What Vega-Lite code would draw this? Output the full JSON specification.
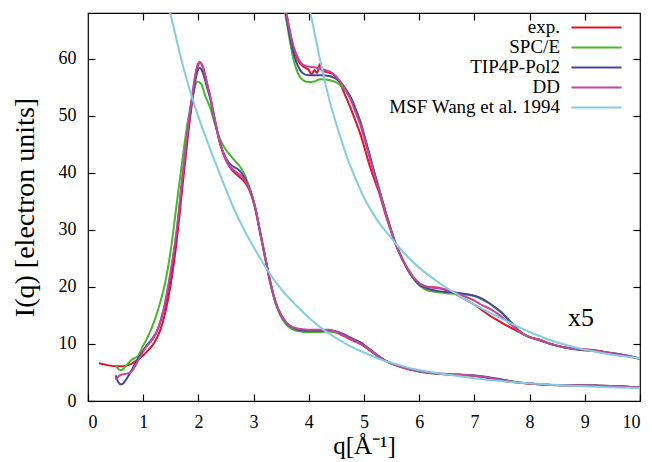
{
  "$schema": "https://vega.github.io/schema/vega-lite/v6.json",
  "width": 552,
  "height": 388,
  "autosize": {"type": "none"},
  "padding": {"left": 88, "top": 13, "right": 12, "bottom": 61},
  "background": "white",
  "config": {
    "font": "Liberation Serif",
    "view": {"stroke": "#000", "strokeWidth": 1.2},
    "axis": {"grid": false, "domain": false, "tickColor": "#000", "tickSize": -7, "tickWidth": 1.2, "labelFont": "Liberation Serif", "labelFontSize": 18, "labelColor": "#000", "titleFont": "Liberation Serif", "titleFontSize": 26, "titleFontWeight": "normal", "titleColor": "#000"},
    "legend": {"orient": "none", "legendX": 479, "legendY": 4.9, "symbolType": "M-5,0H5", "symbolSize": 100, "symbolOffset": 20, "symbolStrokeWidth": 2, "labelFont": "Liberation Serif", "labelFontSize": 19, "labelColor": "#000", "labelAlign": "right", "labelOffset": -46, "labelLimit": 300, "rowPadding": -1.8, "padding": 0}
  },
  "datasets": {
    "curves": [
      {"s":"exp.","b":"a","q":0.2,"I":6.6},{"s":"exp.","b":"a","q":0.3,"I":6.4},{"s":"exp.","b":"a","q":0.4,"I":6.2},{"s":"exp.","b":"a","q":0.5,"I":6.1},{"s":"exp.","b":"a","q":0.6,"I":6.1},{"s":"exp.","b":"a","q":0.7,"I":6.2},{"s":"exp.","b":"a","q":0.8,"I":6.6},{"s":"exp.","b":"a","q":0.9,"I":7.2},{"s":"exp.","b":"a","q":1.0,"I":8.0},{"s":"exp.","b":"a","q":1.1,"I":9.0},{"s":"exp.","b":"a","q":1.2,"I":10.2},{"s":"exp.","b":"a","q":1.3,"I":12.2},{"s":"exp.","b":"a","q":1.4,"I":15.5},{"s":"exp.","b":"a","q":1.5,"I":20.5},{"s":"exp.","b":"a","q":1.6,"I":27.5},{"s":"exp.","b":"a","q":1.7,"I":36.5},{"s":"exp.","b":"a","q":1.8,"I":45.5},{"s":"exp.","b":"a","q":1.9,"I":53.5},{"s":"exp.","b":"a","q":1.95,"I":57.0},{"s":"exp.","b":"a","q":2.0,"I":59.0},{"s":"exp.","b":"a","q":2.03,"I":59.3},{"s":"exp.","b":"a","q":2.08,"I":58.6},{"s":"exp.","b":"a","q":2.16,"I":55.5},{"s":"exp.","b":"a","q":2.22,"I":53.0},{"s":"exp.","b":"a","q":2.28,"I":50.0},{"s":"exp.","b":"a","q":2.4,"I":44.8},{"s":"exp.","b":"a","q":2.52,"I":41.8},{"s":"exp.","b":"a","q":2.6,"I":40.6},{"s":"exp.","b":"a","q":2.73,"I":39.4},{"s":"exp.","b":"a","q":2.8,"I":38.8},{"s":"exp.","b":"a","q":2.88,"I":37.8},{"s":"exp.","b":"a","q":2.95,"I":36.3},{"s":"exp.","b":"a","q":3.0,"I":34.8},{"s":"exp.","b":"a","q":3.06,"I":32.3},{"s":"exp.","b":"a","q":3.1,"I":30.3},{"s":"exp.","b":"a","q":3.2,"I":25.5},{"s":"exp.","b":"a","q":3.3,"I":20.8},{"s":"exp.","b":"a","q":3.4,"I":17.2},{"s":"exp.","b":"a","q":3.5,"I":15.0},{"s":"exp.","b":"a","q":3.6,"I":13.6},{"s":"exp.","b":"a","q":3.7,"I":12.9},{"s":"exp.","b":"a","q":3.85,"I":12.5},{"s":"exp.","b":"a","q":4.0,"I":12.4},{"s":"exp.","b":"a","q":4.2,"I":12.3},{"s":"exp.","b":"a","q":4.35,"I":12.3},{"s":"exp.","b":"a","q":4.5,"I":12.0},{"s":"exp.","b":"a","q":4.63,"I":11.4},{"s":"exp.","b":"a","q":4.8,"I":10.6},{"s":"exp.","b":"a","q":4.93,"I":10.0},{"s":"exp.","b":"a","q":5.1,"I":8.9},{"s":"exp.","b":"a","q":5.23,"I":8.0},{"s":"exp.","b":"a","q":5.4,"I":7.0},{"s":"exp.","b":"a","q":5.6,"I":6.2},{"s":"exp.","b":"a","q":5.8,"I":5.6},{"s":"exp.","b":"a","q":5.96,"I":5.3},{"s":"exp.","b":"a","q":6.2,"I":4.9},{"s":"exp.","b":"a","q":6.56,"I":4.65},{"s":"exp.","b":"a","q":6.9,"I":4.5},{"s":"exp.","b":"a","q":7.16,"I":4.2},{"s":"exp.","b":"a","q":7.5,"I":3.6},{"s":"exp.","b":"a","q":7.77,"I":3.25},{"s":"exp.","b":"a","q":8.1,"I":3.0},{"s":"exp.","b":"a","q":8.67,"I":2.75},{"s":"exp.","b":"a","q":9.2,"I":2.7},{"s":"exp.","b":"a","q":9.6,"I":2.6},{"s":"exp.","b":"a","q":10,"I":2.35},

      {"s":"exp.","b":"b","q":3.5,"I":72.5},{"s":"exp.","b":"b","q":3.58,"I":68.5},{"s":"exp.","b":"b","q":3.65,"I":65.0},{"s":"exp.","b":"b","q":3.72,"I":62.0},{"s":"exp.","b":"b","q":3.8,"I":59.8},{"s":"exp.","b":"b","q":3.9,"I":58.6},{"s":"exp.","b":"b","q":4.0,"I":58.0},{"s":"exp.","b":"b","q":4.05,"I":57.2},{"s":"exp.","b":"b","q":4.1,"I":58.0},{"s":"exp.","b":"b","q":4.15,"I":57.5},{"s":"exp.","b":"b","q":4.2,"I":59.0},{"s":"exp.","b":"b","q":4.25,"I":57.8},{"s":"exp.","b":"b","q":4.35,"I":57.6},{"s":"exp.","b":"b","q":4.45,"I":57.2},{"s":"exp.","b":"b","q":4.55,"I":56.0},{"s":"exp.","b":"b","q":4.65,"I":53.8},{"s":"exp.","b":"b","q":4.75,"I":51.5},{"s":"exp.","b":"b","q":4.85,"I":49.0},{"s":"exp.","b":"b","q":4.93,"I":46.9},{"s":"exp.","b":"b","q":5.02,"I":44.0},{"s":"exp.","b":"b","q":5.11,"I":41.0},{"s":"exp.","b":"b","q":5.2,"I":38.5},{"s":"exp.","b":"b","q":5.29,"I":36.0},{"s":"exp.","b":"b","q":5.38,"I":33.0},{"s":"exp.","b":"b","q":5.47,"I":30.3},{"s":"exp.","b":"b","q":5.56,"I":27.8},{"s":"exp.","b":"b","q":5.66,"I":25.5},{"s":"exp.","b":"b","q":5.75,"I":23.8},{"s":"exp.","b":"b","q":5.84,"I":22.3},{"s":"exp.","b":"b","q":5.93,"I":21.2},{"s":"exp.","b":"b","q":6.02,"I":20.5},{"s":"exp.","b":"b","q":6.15,"I":20.0},{"s":"exp.","b":"b","q":6.32,"I":19.9},{"s":"exp.","b":"b","q":6.5,"I":19.4},{"s":"exp.","b":"b","q":6.62,"I":18.9},{"s":"exp.","b":"b","q":6.8,"I":18.0},{"s":"exp.","b":"b","q":6.98,"I":17.0},{"s":"exp.","b":"b","q":7.1,"I":16.2},{"s":"exp.","b":"b","q":7.29,"I":14.9},{"s":"exp.","b":"b","q":7.45,"I":14.0},{"s":"exp.","b":"b","q":7.59,"I":13.2},{"s":"exp.","b":"b","q":7.75,"I":12.4},{"s":"exp.","b":"b","q":7.89,"I":11.7},{"s":"exp.","b":"b","q":8.0,"I":11.2},{"s":"exp.","b":"b","q":8.1,"I":10.9},{"s":"exp.","b":"b","q":8.19,"I":10.6},{"s":"exp.","b":"b","q":8.35,"I":10.1},{"s":"exp.","b":"b","q":8.49,"I":9.7},{"s":"exp.","b":"b","q":8.65,"I":9.4},{"s":"exp.","b":"b","q":8.79,"I":9.2},{"s":"exp.","b":"b","q":8.95,"I":9.1},{"s":"exp.","b":"b","q":9.1,"I":9.0},{"s":"exp.","b":"b","q":9.25,"I":8.8},{"s":"exp.","b":"b","q":9.4,"I":8.5},{"s":"exp.","b":"b","q":9.6,"I":8.2},{"s":"exp.","b":"b","q":9.8,"I":7.8},{"s":"exp.","b":"b","q":10,"I":7.4},

      {"s":"SPC/E","b":"a","q":0.5,"I":6.3},{"s":"SPC/E","b":"a","q":0.55,"I":5.6},{"s":"SPC/E","b":"a","q":0.6,"I":5.4},{"s":"SPC/E","b":"a","q":0.65,"I":5.7},{"s":"SPC/E","b":"a","q":0.7,"I":6.3},{"s":"SPC/E","b":"a","q":0.8,"I":7.3},{"s":"SPC/E","b":"a","q":0.9,"I":7.8},{"s":"SPC/E","b":"a","q":1.0,"I":9.7},{"s":"SPC/E","b":"a","q":1.1,"I":11.6},{"s":"SPC/E","b":"a","q":1.2,"I":14.0},{"s":"SPC/E","b":"a","q":1.3,"I":17.0},{"s":"SPC/E","b":"a","q":1.4,"I":20.8},{"s":"SPC/E","b":"a","q":1.5,"I":26.5},{"s":"SPC/E","b":"a","q":1.6,"I":34.0},{"s":"SPC/E","b":"a","q":1.7,"I":41.5},{"s":"SPC/E","b":"a","q":1.8,"I":48.5},{"s":"SPC/E","b":"a","q":1.9,"I":53.5},{"s":"SPC/E","b":"a","q":1.98,"I":56.0},{"s":"SPC/E","b":"a","q":2.05,"I":55.6},{"s":"SPC/E","b":"a","q":2.12,"I":53.6},{"s":"SPC/E","b":"a","q":2.22,"I":51.2},{"s":"SPC/E","b":"a","q":2.3,"I":48.5},{"s":"SPC/E","b":"a","q":2.4,"I":45.7},{"s":"SPC/E","b":"a","q":2.5,"I":44.0},{"s":"SPC/E","b":"a","q":2.58,"I":43.0},{"s":"SPC/E","b":"a","q":2.7,"I":41.7},{"s":"SPC/E","b":"a","q":2.76,"I":41.0},{"s":"SPC/E","b":"a","q":2.82,"I":40.0},{"s":"SPC/E","b":"a","q":2.88,"I":38.6},{"s":"SPC/E","b":"a","q":2.95,"I":36.7},{"s":"SPC/E","b":"a","q":3.0,"I":35.0},{"s":"SPC/E","b":"a","q":3.06,"I":32.5},{"s":"SPC/E","b":"a","q":3.1,"I":30.5},{"s":"SPC/E","b":"a","q":3.2,"I":25.6},{"s":"SPC/E","b":"a","q":3.3,"I":20.8},{"s":"SPC/E","b":"a","q":3.4,"I":17.0},{"s":"SPC/E","b":"a","q":3.5,"I":14.7},{"s":"SPC/E","b":"a","q":3.6,"I":13.3},{"s":"SPC/E","b":"a","q":3.7,"I":12.6},{"s":"SPC/E","b":"a","q":3.85,"I":12.2},{"s":"SPC/E","b":"a","q":4.0,"I":12.1},{"s":"SPC/E","b":"a","q":4.2,"I":12.1},{"s":"SPC/E","b":"a","q":4.35,"I":12.2},{"s":"SPC/E","b":"a","q":4.5,"I":12.0},{"s":"SPC/E","b":"a","q":4.63,"I":11.5},{"s":"SPC/E","b":"a","q":4.8,"I":10.8},{"s":"SPC/E","b":"a","q":4.93,"I":10.2},{"s":"SPC/E","b":"a","q":5.1,"I":9.0},{"s":"SPC/E","b":"a","q":5.23,"I":8.1},{"s":"SPC/E","b":"a","q":5.4,"I":7.0},{"s":"SPC/E","b":"a","q":5.6,"I":6.2},{"s":"SPC/E","b":"a","q":5.8,"I":5.6},{"s":"SPC/E","b":"a","q":5.96,"I":5.2},{"s":"SPC/E","b":"a","q":6.2,"I":4.9},{"s":"SPC/E","b":"a","q":6.56,"I":4.6},{"s":"SPC/E","b":"a","q":6.9,"I":4.5},{"s":"SPC/E","b":"a","q":7.16,"I":4.25},{"s":"SPC/E","b":"a","q":7.5,"I":3.7},{"s":"SPC/E","b":"a","q":7.77,"I":3.3},{"s":"SPC/E","b":"a","q":8.1,"I":3.0},{"s":"SPC/E","b":"a","q":8.67,"I":2.75},{"s":"SPC/E","b":"a","q":9.2,"I":2.7},{"s":"SPC/E","b":"a","q":9.6,"I":2.6},{"s":"SPC/E","b":"a","q":10,"I":2.35},

      {"s":"SPC/E","b":"b","q":3.5,"I":71.5},{"s":"SPC/E","b":"b","q":3.58,"I":67.5},{"s":"SPC/E","b":"b","q":3.65,"I":63.5},{"s":"SPC/E","b":"b","q":3.72,"I":60.0},{"s":"SPC/E","b":"b","q":3.8,"I":57.5},{"s":"SPC/E","b":"b","q":3.9,"I":56.2},{"s":"SPC/E","b":"b","q":4.0,"I":55.9},{"s":"SPC/E","b":"b","q":4.1,"I":56.0},{"s":"SPC/E","b":"b","q":4.21,"I":56.4},{"s":"SPC/E","b":"b","q":4.39,"I":56.2},{"s":"SPC/E","b":"b","q":4.57,"I":55.4},{"s":"SPC/E","b":"b","q":4.66,"I":54.5},{"s":"SPC/E","b":"b","q":4.75,"I":53.2},{"s":"SPC/E","b":"b","q":4.84,"I":51.3},{"s":"SPC/E","b":"b","q":4.93,"I":49.0},{"s":"SPC/E","b":"b","q":5.02,"I":46.0},{"s":"SPC/E","b":"b","q":5.11,"I":42.8},{"s":"SPC/E","b":"b","q":5.2,"I":39.6},{"s":"SPC/E","b":"b","q":5.29,"I":36.6},{"s":"SPC/E","b":"b","q":5.38,"I":33.5},{"s":"SPC/E","b":"b","q":5.47,"I":30.7},{"s":"SPC/E","b":"b","q":5.56,"I":28.0},{"s":"SPC/E","b":"b","q":5.66,"I":25.6},{"s":"SPC/E","b":"b","q":5.75,"I":23.8},{"s":"SPC/E","b":"b","q":5.84,"I":22.2},{"s":"SPC/E","b":"b","q":5.93,"I":21.0},{"s":"SPC/E","b":"b","q":6.02,"I":20.1},{"s":"SPC/E","b":"b","q":6.15,"I":19.4},{"s":"SPC/E","b":"b","q":6.32,"I":19.1},{"s":"SPC/E","b":"b","q":6.5,"I":18.9},{"s":"SPC/E","b":"b","q":6.62,"I":18.8},{"s":"SPC/E","b":"b","q":6.8,"I":18.7},{"s":"SPC/E","b":"b","q":6.98,"I":18.45},{"s":"SPC/E","b":"b","q":7.1,"I":18.0},{"s":"SPC/E","b":"b","q":7.2,"I":17.5},{"s":"SPC/E","b":"b","q":7.29,"I":17.0},{"s":"SPC/E","b":"b","q":7.4,"I":16.2},{"s":"SPC/E","b":"b","q":7.5,"I":15.5},{"s":"SPC/E","b":"b","q":7.59,"I":14.6},{"s":"SPC/E","b":"b","q":7.7,"I":13.4},{"s":"SPC/E","b":"b","q":7.8,"I":12.4},{"s":"SPC/E","b":"b","q":7.89,"I":11.7},{"s":"SPC/E","b":"b","q":8.0,"I":11.2},{"s":"SPC/E","b":"b","q":8.1,"I":10.9},{"s":"SPC/E","b":"b","q":8.19,"I":10.7},{"s":"SPC/E","b":"b","q":8.35,"I":10.1},{"s":"SPC/E","b":"b","q":8.49,"I":9.7},{"s":"SPC/E","b":"b","q":8.65,"I":9.35},{"s":"SPC/E","b":"b","q":8.79,"I":9.1},{"s":"SPC/E","b":"b","q":8.95,"I":8.95},{"s":"SPC/E","b":"b","q":9.1,"I":8.8},{"s":"SPC/E","b":"b","q":9.25,"I":8.7},{"s":"SPC/E","b":"b","q":9.4,"I":8.5},{"s":"SPC/E","b":"b","q":9.6,"I":8.25},{"s":"SPC/E","b":"b","q":9.8,"I":7.9},{"s":"SPC/E","b":"b","q":10,"I":7.4},

      {"s":"TIP4P-Pol2","b":"a","q":0.5,"I":4.5},{"s":"TIP4P-Pol2","b":"a","q":0.55,"I":3.3},{"s":"TIP4P-Pol2","b":"a","q":0.6,"I":2.9},{"s":"TIP4P-Pol2","b":"a","q":0.65,"I":3.2},{"s":"TIP4P-Pol2","b":"a","q":0.7,"I":3.9},{"s":"TIP4P-Pol2","b":"a","q":0.78,"I":5.2},{"s":"TIP4P-Pol2","b":"a","q":0.85,"I":6.5},{"s":"TIP4P-Pol2","b":"a","q":0.93,"I":7.8},{"s":"TIP4P-Pol2","b":"a","q":1.05,"I":9.6},{"s":"TIP4P-Pol2","b":"a","q":1.17,"I":11.0},{"s":"TIP4P-Pol2","b":"a","q":1.25,"I":12.3},{"s":"TIP4P-Pol2","b":"a","q":1.32,"I":14.2},{"s":"TIP4P-Pol2","b":"a","q":1.4,"I":17.0},{"s":"TIP4P-Pol2","b":"a","q":1.47,"I":20.6},{"s":"TIP4P-Pol2","b":"a","q":1.55,"I":25.5},{"s":"TIP4P-Pol2","b":"a","q":1.6,"I":29.0},{"s":"TIP4P-Pol2","b":"a","q":1.7,"I":38.0},{"s":"TIP4P-Pol2","b":"a","q":1.8,"I":46.5},{"s":"TIP4P-Pol2","b":"a","q":1.9,"I":53.5},{"s":"TIP4P-Pol2","b":"a","q":1.97,"I":57.3},{"s":"TIP4P-Pol2","b":"a","q":2.02,"I":58.4},{"s":"TIP4P-Pol2","b":"a","q":2.07,"I":57.8},{"s":"TIP4P-Pol2","b":"a","q":2.16,"I":54.8},{"s":"TIP4P-Pol2","b":"a","q":2.22,"I":52.8},{"s":"TIP4P-Pol2","b":"a","q":2.28,"I":49.9},{"s":"TIP4P-Pol2","b":"a","q":2.4,"I":45.0},{"s":"TIP4P-Pol2","b":"a","q":2.52,"I":42.2},{"s":"TIP4P-Pol2","b":"a","q":2.6,"I":41.3},{"s":"TIP4P-Pol2","b":"a","q":2.73,"I":40.5},{"s":"TIP4P-Pol2","b":"a","q":2.8,"I":39.7},{"s":"TIP4P-Pol2","b":"a","q":2.88,"I":38.3},{"s":"TIP4P-Pol2","b":"a","q":2.95,"I":36.6},{"s":"TIP4P-Pol2","b":"a","q":3.0,"I":35.0},{"s":"TIP4P-Pol2","b":"a","q":3.06,"I":32.5},{"s":"TIP4P-Pol2","b":"a","q":3.1,"I":30.5},{"s":"TIP4P-Pol2","b":"a","q":3.2,"I":25.7},{"s":"TIP4P-Pol2","b":"a","q":3.3,"I":21.0},{"s":"TIP4P-Pol2","b":"a","q":3.4,"I":17.3},{"s":"TIP4P-Pol2","b":"a","q":3.5,"I":15.0},{"s":"TIP4P-Pol2","b":"a","q":3.6,"I":13.6},{"s":"TIP4P-Pol2","b":"a","q":3.7,"I":12.9},{"s":"TIP4P-Pol2","b":"a","q":3.85,"I":12.4},{"s":"TIP4P-Pol2","b":"a","q":4.0,"I":12.3},{"s":"TIP4P-Pol2","b":"a","q":4.2,"I":12.3},{"s":"TIP4P-Pol2","b":"a","q":4.35,"I":12.4},{"s":"TIP4P-Pol2","b":"a","q":4.5,"I":12.2},{"s":"TIP4P-Pol2","b":"a","q":4.63,"I":11.7},{"s":"TIP4P-Pol2","b":"a","q":4.8,"I":10.9},{"s":"TIP4P-Pol2","b":"a","q":4.93,"I":10.3},{"s":"TIP4P-Pol2","b":"a","q":5.1,"I":9.1},{"s":"TIP4P-Pol2","b":"a","q":5.23,"I":8.1},{"s":"TIP4P-Pol2","b":"a","q":5.4,"I":7.0},{"s":"TIP4P-Pol2","b":"a","q":5.6,"I":6.2},{"s":"TIP4P-Pol2","b":"a","q":5.8,"I":5.6},{"s":"TIP4P-Pol2","b":"a","q":5.96,"I":5.3},{"s":"TIP4P-Pol2","b":"a","q":6.2,"I":4.9},{"s":"TIP4P-Pol2","b":"a","q":6.56,"I":4.7},{"s":"TIP4P-Pol2","b":"a","q":6.9,"I":4.55},{"s":"TIP4P-Pol2","b":"a","q":7.16,"I":4.3},{"s":"TIP4P-Pol2","b":"a","q":7.5,"I":3.75},{"s":"TIP4P-Pol2","b":"a","q":7.77,"I":3.3},{"s":"TIP4P-Pol2","b":"a","q":8.1,"I":3.0},{"s":"TIP4P-Pol2","b":"a","q":8.67,"I":2.75},{"s":"TIP4P-Pol2","b":"a","q":9.2,"I":2.7},{"s":"TIP4P-Pol2","b":"a","q":9.6,"I":2.6},{"s":"TIP4P-Pol2","b":"a","q":10,"I":2.35},

      {"s":"TIP4P-Pol2","b":"b","q":3.5,"I":72.0},{"s":"TIP4P-Pol2","b":"b","q":3.58,"I":68.0},{"s":"TIP4P-Pol2","b":"b","q":3.65,"I":64.2},{"s":"TIP4P-Pol2","b":"b","q":3.72,"I":61.0},{"s":"TIP4P-Pol2","b":"b","q":3.8,"I":58.8},{"s":"TIP4P-Pol2","b":"b","q":3.9,"I":57.4},{"s":"TIP4P-Pol2","b":"b","q":4.0,"I":57.1},{"s":"TIP4P-Pol2","b":"b","q":4.1,"I":57.1},{"s":"TIP4P-Pol2","b":"b","q":4.21,"I":57.1},{"s":"TIP4P-Pol2","b":"b","q":4.39,"I":56.9},{"s":"TIP4P-Pol2","b":"b","q":4.57,"I":55.9},{"s":"TIP4P-Pol2","b":"b","q":4.66,"I":54.8},{"s":"TIP4P-Pol2","b":"b","q":4.75,"I":53.4},{"s":"TIP4P-Pol2","b":"b","q":4.84,"I":51.4},{"s":"TIP4P-Pol2","b":"b","q":4.93,"I":49.0},{"s":"TIP4P-Pol2","b":"b","q":5.02,"I":46.0},{"s":"TIP4P-Pol2","b":"b","q":5.11,"I":42.8},{"s":"TIP4P-Pol2","b":"b","q":5.2,"I":39.6},{"s":"TIP4P-Pol2","b":"b","q":5.29,"I":36.6},{"s":"TIP4P-Pol2","b":"b","q":5.38,"I":33.5},{"s":"TIP4P-Pol2","b":"b","q":5.47,"I":30.6},{"s":"TIP4P-Pol2","b":"b","q":5.56,"I":27.9},{"s":"TIP4P-Pol2","b":"b","q":5.66,"I":25.6},{"s":"TIP4P-Pol2","b":"b","q":5.75,"I":23.8},{"s":"TIP4P-Pol2","b":"b","q":5.84,"I":22.3},{"s":"TIP4P-Pol2","b":"b","q":5.93,"I":21.1},{"s":"TIP4P-Pol2","b":"b","q":6.02,"I":20.3},{"s":"TIP4P-Pol2","b":"b","q":6.15,"I":19.7},{"s":"TIP4P-Pol2","b":"b","q":6.32,"I":19.3},{"s":"TIP4P-Pol2","b":"b","q":6.5,"I":19.1},{"s":"TIP4P-Pol2","b":"b","q":6.62,"I":19.0},{"s":"TIP4P-Pol2","b":"b","q":6.8,"I":18.8},{"s":"TIP4P-Pol2","b":"b","q":6.98,"I":18.5},{"s":"TIP4P-Pol2","b":"b","q":7.1,"I":18.1},{"s":"TIP4P-Pol2","b":"b","q":7.2,"I":17.6},{"s":"TIP4P-Pol2","b":"b","q":7.29,"I":17.0},{"s":"TIP4P-Pol2","b":"b","q":7.4,"I":16.2},{"s":"TIP4P-Pol2","b":"b","q":7.5,"I":15.4},{"s":"TIP4P-Pol2","b":"b","q":7.59,"I":14.5},{"s":"TIP4P-Pol2","b":"b","q":7.7,"I":13.4},{"s":"TIP4P-Pol2","b":"b","q":7.8,"I":12.4},{"s":"TIP4P-Pol2","b":"b","q":7.89,"I":11.7},{"s":"TIP4P-Pol2","b":"b","q":8.0,"I":11.2},{"s":"TIP4P-Pol2","b":"b","q":8.1,"I":10.9},{"s":"TIP4P-Pol2","b":"b","q":8.19,"I":10.7},{"s":"TIP4P-Pol2","b":"b","q":8.35,"I":10.1},{"s":"TIP4P-Pol2","b":"b","q":8.49,"I":9.7},{"s":"TIP4P-Pol2","b":"b","q":8.65,"I":9.35},{"s":"TIP4P-Pol2","b":"b","q":8.79,"I":9.1},{"s":"TIP4P-Pol2","b":"b","q":8.95,"I":8.95},{"s":"TIP4P-Pol2","b":"b","q":9.1,"I":8.8},{"s":"TIP4P-Pol2","b":"b","q":9.25,"I":8.7},{"s":"TIP4P-Pol2","b":"b","q":9.4,"I":8.5},{"s":"TIP4P-Pol2","b":"b","q":9.6,"I":8.25},{"s":"TIP4P-Pol2","b":"b","q":9.8,"I":7.9},{"s":"TIP4P-Pol2","b":"b","q":10,"I":7.45},

      {"s":"DD","b":"a","q":0.5,"I":3.7},{"s":"DD","b":"a","q":0.55,"I":4.3},{"s":"DD","b":"a","q":0.6,"I":4.6},{"s":"DD","b":"a","q":0.7,"I":4.8},{"s":"DD","b":"a","q":0.75,"I":4.9},{"s":"DD","b":"a","q":0.8,"I":5.3},{"s":"DD","b":"a","q":0.87,"I":6.4},{"s":"DD","b":"a","q":0.95,"I":7.8},{"s":"DD","b":"a","q":1.02,"I":9.0},{"s":"DD","b":"a","q":1.1,"I":10.0},{"s":"DD","b":"a","q":1.17,"I":10.8},{"s":"DD","b":"a","q":1.25,"I":12.2},{"s":"DD","b":"a","q":1.32,"I":14.2},{"s":"DD","b":"a","q":1.4,"I":17.5},{"s":"DD","b":"a","q":1.47,"I":21.2},{"s":"DD","b":"a","q":1.55,"I":26.0},{"s":"DD","b":"a","q":1.6,"I":29.5},{"s":"DD","b":"a","q":1.7,"I":38.3},{"s":"DD","b":"a","q":1.8,"I":47.0},{"s":"DD","b":"a","q":1.9,"I":54.5},{"s":"DD","b":"a","q":1.97,"I":58.5},{"s":"DD","b":"a","q":2.02,"I":59.4},{"s":"DD","b":"a","q":2.07,"I":58.8},{"s":"DD","b":"a","q":2.16,"I":55.5},{"s":"DD","b":"a","q":2.22,"I":53.2},{"s":"DD","b":"a","q":2.28,"I":50.2},{"s":"DD","b":"a","q":2.4,"I":45.0},{"s":"DD","b":"a","q":2.52,"I":41.9},{"s":"DD","b":"a","q":2.6,"I":40.8},{"s":"DD","b":"a","q":2.73,"I":39.8},{"s":"DD","b":"a","q":2.8,"I":39.2},{"s":"DD","b":"a","q":2.88,"I":38.1},{"s":"DD","b":"a","q":2.95,"I":36.6},{"s":"DD","b":"a","q":3.0,"I":35.1},{"s":"DD","b":"a","q":3.06,"I":32.6},{"s":"DD","b":"a","q":3.1,"I":30.6},{"s":"DD","b":"a","q":3.2,"I":25.7},{"s":"DD","b":"a","q":3.3,"I":21.0},{"s":"DD","b":"a","q":3.4,"I":17.3},{"s":"DD","b":"a","q":3.5,"I":15.1},{"s":"DD","b":"a","q":3.6,"I":13.7},{"s":"DD","b":"a","q":3.7,"I":13.0},{"s":"DD","b":"a","q":3.85,"I":12.6},{"s":"DD","b":"a","q":4.0,"I":12.5},{"s":"DD","b":"a","q":4.2,"I":12.5},{"s":"DD","b":"a","q":4.35,"I":12.5},{"s":"DD","b":"a","q":4.5,"I":12.1},{"s":"DD","b":"a","q":4.63,"I":11.5},{"s":"DD","b":"a","q":4.8,"I":10.7},{"s":"DD","b":"a","q":4.93,"I":10.1},{"s":"DD","b":"a","q":5.1,"I":9.0},{"s":"DD","b":"a","q":5.23,"I":8.0},{"s":"DD","b":"a","q":5.4,"I":7.0},{"s":"DD","b":"a","q":5.6,"I":6.2},{"s":"DD","b":"a","q":5.8,"I":5.6},{"s":"DD","b":"a","q":5.96,"I":5.3},{"s":"DD","b":"a","q":6.2,"I":4.95},{"s":"DD","b":"a","q":6.56,"I":4.7},{"s":"DD","b":"a","q":6.9,"I":4.5},{"s":"DD","b":"a","q":7.16,"I":4.2},{"s":"DD","b":"a","q":7.5,"I":3.65},{"s":"DD","b":"a","q":7.77,"I":3.25},{"s":"DD","b":"a","q":8.1,"I":3.0},{"s":"DD","b":"a","q":8.67,"I":2.75},{"s":"DD","b":"a","q":9.2,"I":2.7},{"s":"DD","b":"a","q":9.6,"I":2.6},{"s":"DD","b":"a","q":10,"I":2.35},

      {"s":"DD","b":"b","q":3.5,"I":72.8},{"s":"DD","b":"b","q":3.58,"I":68.8},{"s":"DD","b":"b","q":3.65,"I":65.2},{"s":"DD","b":"b","q":3.72,"I":62.3},{"s":"DD","b":"b","q":3.8,"I":60.2},{"s":"DD","b":"b","q":3.9,"I":58.9},{"s":"DD","b":"b","q":4.0,"I":58.6},{"s":"DD","b":"b","q":4.1,"I":58.5},{"s":"DD","b":"b","q":4.21,"I":58.2},{"s":"DD","b":"b","q":4.39,"I":57.7},{"s":"DD","b":"b","q":4.57,"I":56.0},{"s":"DD","b":"b","q":4.66,"I":54.6},{"s":"DD","b":"b","q":4.75,"I":53.0},{"s":"DD","b":"b","q":4.84,"I":50.8},{"s":"DD","b":"b","q":4.93,"I":48.5},{"s":"DD","b":"b","q":5.02,"I":45.5},{"s":"DD","b":"b","q":5.11,"I":42.3},{"s":"DD","b":"b","q":5.2,"I":39.2},{"s":"DD","b":"b","q":5.29,"I":36.3},{"s":"DD","b":"b","q":5.38,"I":33.3},{"s":"DD","b":"b","q":5.47,"I":30.5},{"s":"DD","b":"b","q":5.56,"I":27.9},{"s":"DD","b":"b","q":5.66,"I":25.6},{"s":"DD","b":"b","q":5.75,"I":23.9},{"s":"DD","b":"b","q":5.84,"I":22.5},{"s":"DD","b":"b","q":5.93,"I":21.3},{"s":"DD","b":"b","q":6.02,"I":20.5},{"s":"DD","b":"b","q":6.15,"I":20.0},{"s":"DD","b":"b","q":6.32,"I":19.8},{"s":"DD","b":"b","q":6.5,"I":19.5},{"s":"DD","b":"b","q":6.62,"I":19.1},{"s":"DD","b":"b","q":6.8,"I":18.4},{"s":"DD","b":"b","q":6.98,"I":17.7},{"s":"DD","b":"b","q":7.1,"I":17.0},{"s":"DD","b":"b","q":7.29,"I":16.1},{"s":"DD","b":"b","q":7.45,"I":15.1},{"s":"DD","b":"b","q":7.59,"I":14.0},{"s":"DD","b":"b","q":7.75,"I":12.7},{"s":"DD","b":"b","q":7.89,"I":11.7},{"s":"DD","b":"b","q":8.0,"I":11.2},{"s":"DD","b":"b","q":8.1,"I":10.9},{"s":"DD","b":"b","q":8.19,"I":10.7},{"s":"DD","b":"b","q":8.35,"I":10.1},{"s":"DD","b":"b","q":8.49,"I":9.7},{"s":"DD","b":"b","q":8.65,"I":9.4},{"s":"DD","b":"b","q":8.79,"I":9.15},{"s":"DD","b":"b","q":8.95,"I":9.0},{"s":"DD","b":"b","q":9.1,"I":8.9},{"s":"DD","b":"b","q":9.25,"I":8.75},{"s":"DD","b":"b","q":9.4,"I":8.5},{"s":"DD","b":"b","q":9.6,"I":8.2},{"s":"DD","b":"b","q":9.8,"I":7.85},{"s":"DD","b":"b","q":10,"I":7.4},

      {"s":"MSF Wang et al. 1994","b":"a","q":1.4,"I":72.0},{"s":"MSF Wang et al. 1994","b":"a","q":1.49,"I":68.0},{"s":"MSF Wang et al. 1994","b":"a","q":1.6,"I":63.5},{"s":"MSF Wang et al. 1994","b":"a","q":1.7,"I":59.5},{"s":"MSF Wang et al. 1994","b":"a","q":1.86,"I":54.0},{"s":"MSF Wang et al. 1994","b":"a","q":2.0,"I":49.8},{"s":"MSF Wang et al. 1994","b":"a","q":2.2,"I":44.5},{"s":"MSF Wang et al. 1994","b":"a","q":2.4,"I":39.5},{"s":"MSF Wang et al. 1994","b":"a","q":2.63,"I":34.0},{"s":"MSF Wang et al. 1994","b":"a","q":2.8,"I":30.5},{"s":"MSF Wang et al. 1994","b":"a","q":3.0,"I":27.0},{"s":"MSF Wang et al. 1994","b":"a","q":3.24,"I":23.1},{"s":"MSF Wang et al. 1994","b":"a","q":3.5,"I":19.6},{"s":"MSF Wang et al. 1994","b":"a","q":3.85,"I":16.0},{"s":"MSF Wang et al. 1994","b":"a","q":4.21,"I":12.9},{"s":"MSF Wang et al. 1994","b":"a","q":4.5,"I":11.0},{"s":"MSF Wang et al. 1994","b":"a","q":4.75,"I":9.6},{"s":"MSF Wang et al. 1994","b":"a","q":5.0,"I":8.5},{"s":"MSF Wang et al. 1994","b":"a","q":5.3,"I":7.3},{"s":"MSF Wang et al. 1994","b":"a","q":5.6,"I":6.4},{"s":"MSF Wang et al. 1994","b":"a","q":5.9,"I":5.6},{"s":"MSF Wang et al. 1994","b":"a","q":6.25,"I":5.0},{"s":"MSF Wang et al. 1994","b":"a","q":6.6,"I":4.5},{"s":"MSF Wang et al. 1994","b":"a","q":7.0,"I":4.0},{"s":"MSF Wang et al. 1994","b":"a","q":7.47,"I":3.5},{"s":"MSF Wang et al. 1994","b":"a","q":8.0,"I":3.1},{"s":"MSF Wang et al. 1994","b":"a","q":8.67,"I":2.7},{"s":"MSF Wang et al. 1994","b":"a","q":9.3,"I":2.45},{"s":"MSF Wang et al. 1994","b":"a","q":10,"I":2.3},

      {"s":"MSF Wang et al. 1994","b":"b","q":3.95,"I":71.5},{"s":"MSF Wang et al. 1994","b":"b","q":4.03,"I":68.0},{"s":"MSF Wang et al. 1994","b":"b","q":4.2,"I":60.0},{"s":"MSF Wang et al. 1994","b":"b","q":4.39,"I":52.1},{"s":"MSF Wang et al. 1994","b":"b","q":4.5,"I":48.5},{"s":"MSF Wang et al. 1994","b":"b","q":4.69,"I":42.8},{"s":"MSF Wang et al. 1994","b":"b","q":4.85,"I":38.9},{"s":"MSF Wang et al. 1994","b":"b","q":4.99,"I":35.8},{"s":"MSF Wang et al. 1994","b":"b","q":5.15,"I":33.1},{"s":"MSF Wang et al. 1994","b":"b","q":5.29,"I":31.0},{"s":"MSF Wang et al. 1994","b":"b","q":5.45,"I":29.1},{"s":"MSF Wang et al. 1994","b":"b","q":5.6,"I":27.3},{"s":"MSF Wang et al. 1994","b":"b","q":5.8,"I":25.2},{"s":"MSF Wang et al. 1994","b":"b","q":6.02,"I":23.2},{"s":"MSF Wang et al. 1994","b":"b","q":6.38,"I":20.6},{"s":"MSF Wang et al. 1994","b":"b","q":6.7,"I":18.6},{"s":"MSF Wang et al. 1994","b":"b","q":7.0,"I":16.9},{"s":"MSF Wang et al. 1994","b":"b","q":7.4,"I":14.9},{"s":"MSF Wang et al. 1994","b":"b","q":7.71,"I":13.4},{"s":"MSF Wang et al. 1994","b":"b","q":8.0,"I":12.1},{"s":"MSF Wang et al. 1994","b":"b","q":8.49,"I":10.3},{"s":"MSF Wang et al. 1994","b":"b","q":9.1,"I":8.8},{"s":"MSF Wang et al. 1994","b":"b","q":9.5,"I":8.1},{"s":"MSF Wang et al. 1994","b":"b","q":10,"I":7.5}
    ]
  },
  "layer": [
    {
      "data": {"name": "curves"},
      "mark": {"type": "line", "strokeWidth": 2, "clip": true, "interpolate": "monotone"},
      "encoding": {
        "x": {"field": "q", "type": "quantitative", "scale": {"domain": [0, 10], "nice": false, "zero": false},
              "axis": {"orient": "bottom", "values": [0,1,2,3,4,5,6,7,8,9,10], "title": "q[Å⁻¹]", "titleFontSize": 25, "labelPadding": 19, "titlePadding": 2}},
        "y": {"field": "I", "type": "quantitative", "scale": {"domain": [0, 68], "nice": false, "zero": false},
              "axis": {"orient": "left", "values": [0,10,20,30,40,50,60], "title": "I(q) [electron units]", "titleFontSize": 28, "labelPadding": 19, "titlePadding": 19}},
        "color": {"field": "s", "type": "nominal",
                  "scale": {"domain": ["exp.", "SPC/E", "TIP4P-Pol2", "DD", "MSF Wang et al. 1994"], "range": ["#e4112d", "#48b82a", "#48489a", "#c2479c", "#85cbe2"]},
                  "legend": {"title": null, "encode": {"symbols": {"update": {"stroke": {"scale": "color", "field": "value"}, "strokeWidth": {"value": 2}, "opacity": {"value": 1}}}}}},
        "detail": {"field": "b", "type": "nominal"}
      }
    },
    {
      "data": {"values": [{"q": 8.93, "I": 13.2, "t": "x5"}]},
      "mark": {"type": "text", "fontSize": 26, "font": "Liberation Serif", "align": "center", "baseline": "alphabetic", "color": "#000"},
      "encoding": {
        "x": {"field": "q", "type": "quantitative", "scale": {"domain": [0, 10], "nice": false, "zero": false},
              "axis": {"orient": "top", "values": [1,2,3,4,5,6,7,8,9], "labels": false, "title": null}},
        "y": {"field": "I", "type": "quantitative", "scale": {"domain": [0, 68], "nice": false, "zero": false},
              "axis": {"orient": "right", "values": [10,20,30,40,50,60], "labels": false, "title": null}},
        "text": {"field": "t", "type": "nominal"}
      }
    }
  ],
  "resolve": {"axis": {"x": "independent", "y": "independent"}}
}
